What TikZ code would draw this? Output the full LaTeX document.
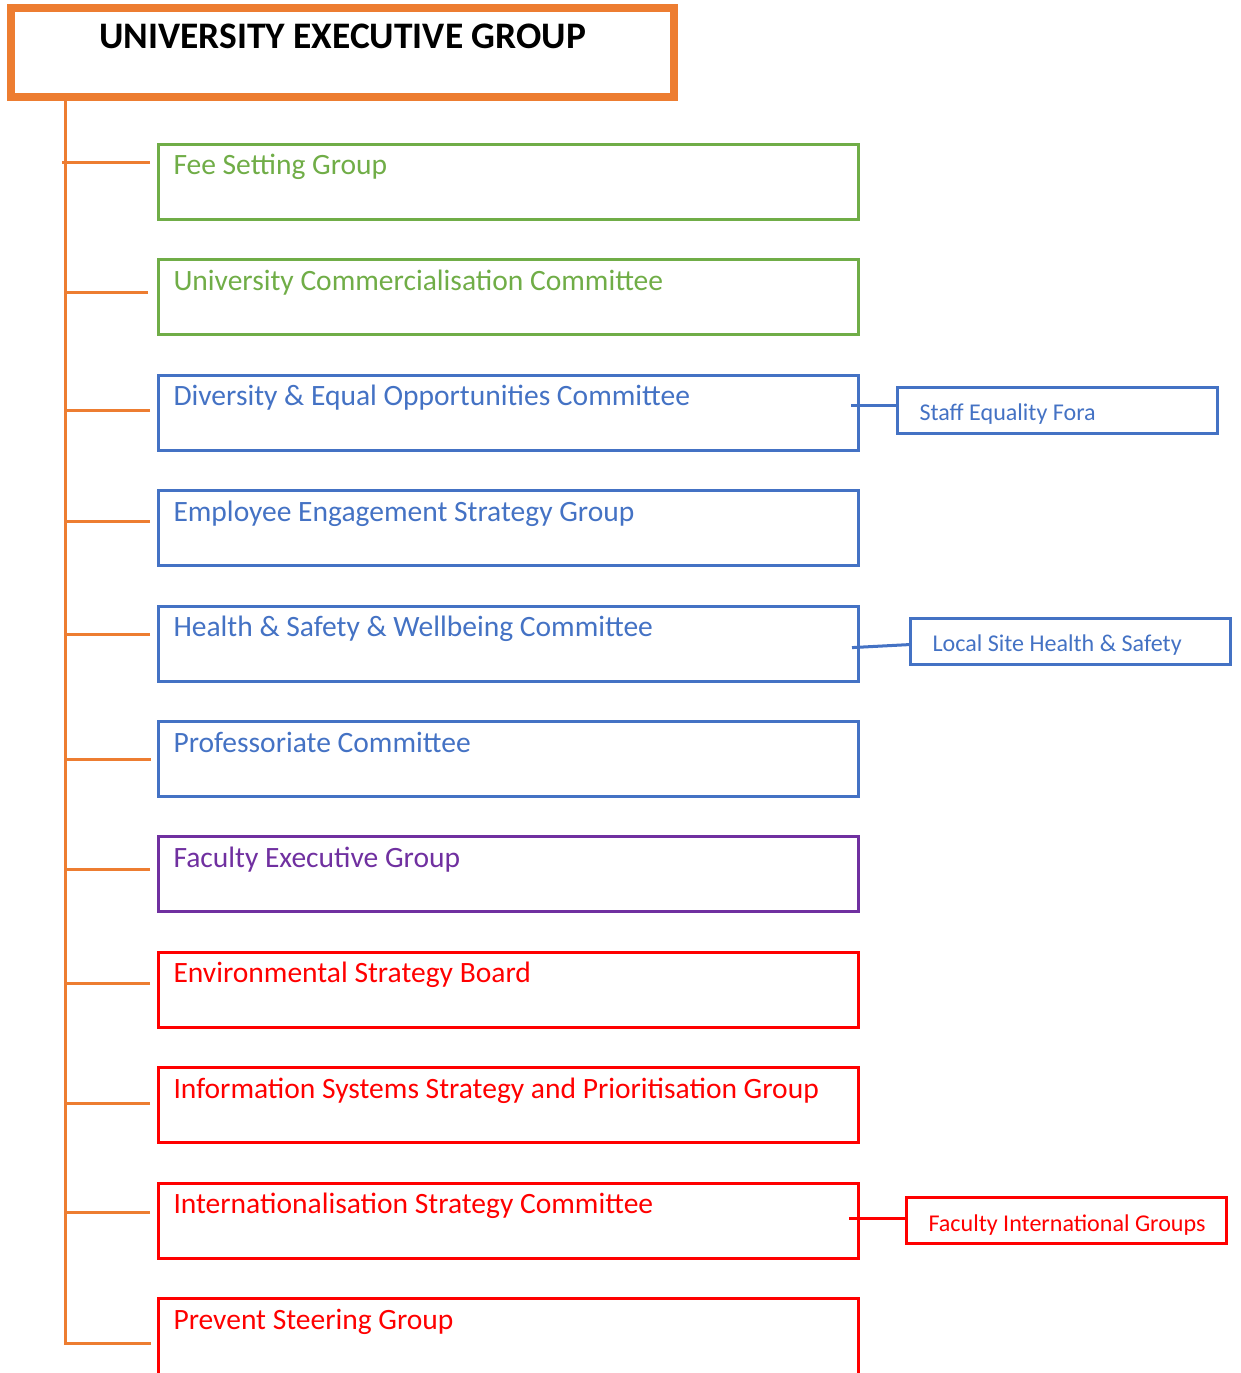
\documentclass[tikz,border=0pt]{standalone}
\usepackage{fontspec}
\setmainfont{Carlito}
\usepackage{xcolor}
\usetikzlibrary{calc}
\usetikzlibrary{positioning}
\definecolor{uegorange}{HTML}{ED7D31}
\definecolor{grpgreen}{HTML}{70AD47}
\definecolor{grpblue}{HTML}{4472C4}
\definecolor{grppurple}{HTML}{7030A0}
\definecolor{grpred}{HTML}{FF0000}

\begin{document}
\begin{tikzpicture}[node distance=0.748cm, line width=0.06cm]
    \tikzstyle{exec}=[draw=uegorange, rectangle, line width=0.16cm, minimum width=13.26cm, minimum height=1.78cm, inner sep=0pt]
    \tikzstyle{committee}=[draw, rectangle, minimum width=14cm, minimum height=1.5cm, inner sep=0pt]
    \tikzstyle{sub}=[draw, rectangle, minimum width=6.4cm, minimum height=0.92cm, inner sep=0pt]
    \tikzstyle{ctext}=[anchor=base west, inner sep=0pt, font=\fontsize{16.8}{20}\selectfont]
    \tikzstyle{stext}=[anchor=base west, inner sep=0pt, font=\fontsize{13.7}{16}\selectfont]
    \tikzstyle{trunk}=[draw=uegorange, line width=0.06cm]

    \useasboundingbox (0,0) rectangle (24.8,-27.46);

    \node[exec] (ueg) at (6.85,-1.05) {};
    \node[anchor=base, inner sep=0pt, font=\fontsize{21.3}{25}\selectfont\bfseries] (uegt) at ($(ueg.north)+(0,-0.9)$) {UNIVERSITY EXECUTIVE GROUP};
    \coordinate (ts) at ($(ueg.south west)+(1.16,0)$);

    %%%% committees
    \node[committee, draw=grpgreen] (b1) at (10.17,-3.64) {};
    \node[committee, draw=grpgreen, below=of b1] (b2) {};
    \node[committee, draw=grpblue, below=of b2] (b3) {};
    \node[committee, draw=grpblue, below=of b3] (b4) {};
    \node[committee, draw=grpblue, below=of b4] (b5) {};
    \node[committee, draw=grpblue, below=of b5] (b6) {};
    \node[committee, draw=grppurple, below=of b6] (b7) {};
    \node[committee, draw=grpred, below=of b7] (b8) {};
    \node[committee, draw=grpred, below=of b8] (b9) {};
    \node[committee, draw=grpred, below=of b9] (b10) {};
    \node[committee, draw=grpred, below=of b10, minimum height=2.2cm] (b11) {};

    \node[ctext, text=grpgreen] (t1) at ($(b1.north west)+(0.3,-0.64)$) {Fee Setting Group};
    \node[ctext, text=grpgreen] (t2) at ($(b2.north west)+(0.3,-0.64)$) {University Commercialisation Committee};
    \node[ctext, text=grpblue] (t3) at ($(b3.north west)+(0.3,-0.64)$) {Diversity \& Equal Opportunities Committee};
    \node[ctext, text=grpblue] (t4) at ($(b4.north west)+(0.3,-0.64)$) {Employee Engagement Strategy Group};
    \node[ctext, text=grpblue] (t5) at ($(b5.north west)+(0.3,-0.64)$) {Health \& Safety \& Wellbeing Committee};
    \node[ctext, text=grpblue] (t6) at ($(b6.north west)+(0.3,-0.64)$) {Professoriate Committee};
    \node[ctext, text=grppurple] (t7) at ($(b7.north west)+(0.3,-0.64)$) {Faculty Executive Group};
    \node[ctext, text=grpred] (t8) at ($(b8.north west)+(0.3,-0.64)$) {Environmental Strategy Board};
    \node[ctext, text=grpred] (t9) at ($(b9.north west)+(0.3,-0.64)$) {Information Systems Strategy and Prioritisation Group};
    \node[ctext, text=grpred] (t10) at ($(b10.north west)+(0.3,-0.64)$) {Internationalisation Strategy Committee};
    \node[ctext, text=grpred] (t11) at ($(b11.north west)+(0.3,-0.64)$) {Prevent Steering Group};

    %%%% sub groups
    \node[sub, draw=grpblue, right=0.72cm of b3, yshift=0.05cm] (sef) {};
    \node[sub, draw=grpblue, right=0.98cm of b5, yshift=0.05cm] (lsh) {};
    \node[sub, draw=grpred, right=0.9cm of b10] (fig) {};

    \node[stext, text=grpblue] (sept) at ($(sef.north west)+(0.44,-0.7)$) {Staff Equality Fora};
    \node[stext, text=grpblue] (lsht) at ($(lsh.north west)+(0.44,-0.7)$) {Local Site Health \& Safety};
    \node[stext, text=grpred] (figt) at ($(fig.north west)+(0.44,-0.7)$) {Faculty International Groups};

    \draw[draw=grpblue] ($(sef.west)+(0,0.1)$) -- ($(sef.west -| b3.east)+(-0.18,0.1)$);
    \draw[draw=grpblue] ($(lsh.west)+(0,-0.07)$) -- ($(lsh.west -| b5.east)+(-0.16,-0.13)$);
    \draw[draw=grpred] ($(fig.west)+(0,0.05)$) -- ($(fig.west -| b10.east)+(-0.22,0.05)$);

    %%%% tree
    \coordinate (k11) at ($(b11.north west)+(-0.12,-0.92)$);
    \draw[trunk] ($(b1.north west)+(-0.14,-0.40)$) coordinate (k1) -- ($(k1 -| ts)+(-0.06,0)$);
    \draw[trunk] ($(b2.north west)+(-0.18,-0.68)$) coordinate (k2) -- (k2 -| ts);
    \draw[trunk] ($(b3.north west)+(-0.14,-0.74)$) coordinate (k3) -- (k3 -| ts);
    \draw[trunk] ($(b4.north west)+(-0.14,-0.64)$) coordinate (k4) -- (k4 -| ts);
    \draw[trunk] ($(b5.north west)+(-0.14,-0.60)$) coordinate (k5) -- (k5 -| ts);
    \draw[trunk] ($(b6.north west)+(-0.12,-0.78)$) coordinate (k6) -- (k6 -| ts);
    \draw[trunk] ($(b7.north west)+(-0.14,-0.68)$) coordinate (k7) -- (k7 -| ts);
    \draw[trunk] ($(b8.north west)+(-0.14,-0.66)$) coordinate (k8) -- (k8 -| ts);
    \draw[trunk] ($(b9.north west)+(-0.14,-0.74)$) coordinate (k9) -- (k9 -| ts);
    \draw[trunk] ($(b10.north west)+(-0.14,-0.62)$) coordinate (k10) -- (k10 -| ts);
    \draw[trunk] (ts) -- (k11 -| ts) -- (k11);
\end{tikzpicture}
\end{document}
